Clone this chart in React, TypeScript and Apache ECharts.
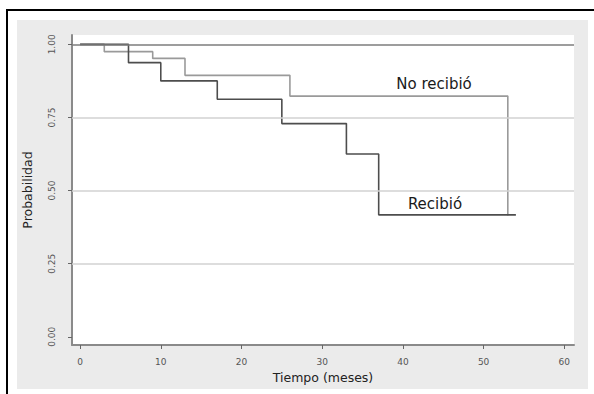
import React, { useEffect, useRef } from "react";
import * as echarts from "echarts";

const xTicks = [0, 10, 20, 30, 40, 50, 60];
const yTicks = [0, 0.25, 0.5, 0.75, 1];
const lightGrid = [0.25, 0.5, 0.75];
const topGrid = [1];

const recibioTime = [0, 6, 10, 17, 25, 33, 37, 54];
const recibioSurv = [1, 0.9375, 0.875, 0.8125, 0.729, 0.625, 0.417, 0.417];

const noRecibioTime = [0, 3, 9, 13, 26, 53];
const noRecibioSurv = [1, 0.975, 0.952, 0.894, 0.823, 0.415];

const FONT = "DejaVu Sans";

export default function App() {
  const ref = useRef<HTMLDivElement>(null);
  useEffect(() => {
    if (!ref.current) return;
    const chart = echarts.init(ref.current, undefined, { renderer: "svg" });
    const pair = (t: number[], s: number[]) => t.map((v, i) => [v, s[i]]);
    chart.setOption({
      animation: false,
      backgroundColor: "#ffffff",
      graphic: [
        {
          type: "rect",
          z: -10,
          silent: true,
          shape: { x: 7, y: 10, width: 600, height: 400 },
          style: { fill: "none", stroke: "#000", lineWidth: 2 },
        },
        {
          type: "rect",
          z: -9,
          silent: true,
          shape: { x: 17, y: 20, width: 571, height: 369 },
          style: { fill: "#ebebeb" },
        },
        {
          type: "text",
          z: 10,
          x: 434,
          y: 84,
          style: {
            text: "No recibió",
            font: `15px '${FONT}'`,
            fill: "#1a1a1a",
            textAlign: "center",
            textVerticalAlign: "middle",
          },
        },
        {
          type: "text",
          z: 10,
          x: 435,
          y: 204,
          style: {
            text: "Recibió",
            font: `15px '${FONT}'`,
            fill: "#1a1a1a",
            textAlign: "center",
            textVerticalAlign: "middle",
          },
        },
      ],
      grid: {
        left: 72,
        top: 35,
        right: 20,
        bottom: 49,
        show: true,
        backgroundColor: "#ffffff",
        borderWidth: 0,
        containLabel: false,
      },
      xAxis: {
        type: "value",
        min: -1,
        max: 61.2,
        name: "Tiempo (meses)",
        nameLocation: "middle",
        nameGap: 26,
        nameTextStyle: { fontFamily: FONT, fontSize: 12.5, color: "#222" },
        axisLine: { show: true, onZero: false, lineStyle: { color: "#8a8a8a", width: 2 } },
        axisTick: { show: true, customValues: xTicks, length: 4, lineStyle: { color: "#666", width: 1 } },
        axisLabel: {
          customValues: xTicks,
          fontFamily: FONT,
          fontSize: 9,
          color: "#555",
          margin: 12,
        },
        splitLine: { show: false },
      },
      yAxis: {
        type: "value",
        min: -0.028,
        max: 1.032,
        name: "Probabilidad",
        nameLocation: "middle",
        nameRotate: 90,
        nameGap: 38,
        nameTextStyle: { fontFamily: FONT, fontSize: 12.5, color: "#222" },
        axisLine: { show: true, onZero: false, lineStyle: { color: "#8a8a8a", width: 2 } },
        axisTick: { show: true, customValues: yTicks, length: 4, lineStyle: { color: "#666", width: 1 } },
        axisLabel: {
          customValues: yTicks,
          rotate: 90,
          fontFamily: FONT,
          fontSize: 9,
          color: "#555",
          margin: 16,
          formatter: (v: number) => v.toFixed(2),
        },
        splitLine: { show: false },
      },
      series: [
        {
          type: "line",
          name: "grid",
          data: [],
          silent: true,
          markLine: {
            silent: true,
            symbol: "none",
            label: { show: false },
            data: [
              ...lightGrid.map((v) => ({ yAxis: v, lineStyle: { color: "#d2d2d2", width: 1.6, type: "solid" } })),
              ...topGrid.map((v) => ({ yAxis: v, lineStyle: { color: "#7c7c7c", width: 1.6, type: "solid" } })),
            ],
          },
        },
        {
          type: "line",
          name: "No recibió",
          step: "end",
          showSymbol: false,
          data: pair(noRecibioTime, noRecibioSurv),
          lineStyle: { color: "#9a9a9a", width: 1.6 },
          z: 3,
        },
        {
          type: "line",
          name: "Recibió",
          step: "end",
          showSymbol: false,
          data: pair(recibioTime, recibioSurv),
          lineStyle: { color: "#4d4d4d", width: 1.6 },
          z: 4,
        },
      ],
    });
    return () => chart.dispose();
  }, []);
  return (
    <div
      ref={ref}
      style={{ position: "absolute", left: 0, top: 0, width: 594, height: 394 }}
    />
  );
}
